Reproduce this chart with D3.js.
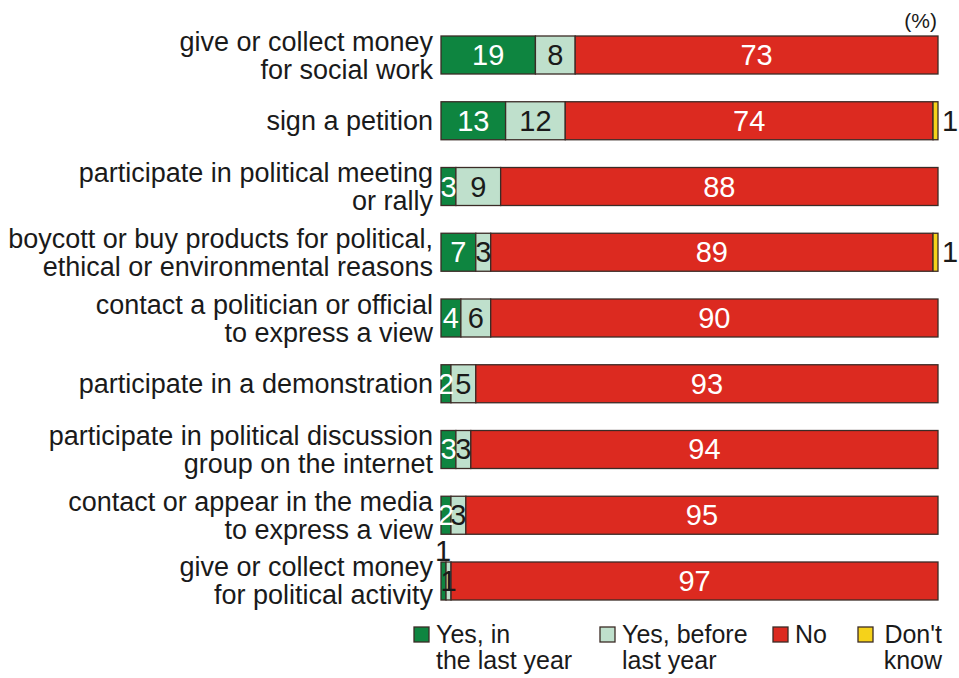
<!DOCTYPE html>
<html>
<head>
<meta charset="utf-8">
<script src="https://cdn.jsdelivr.net/npm/d3@7"></script>
<style>
  body { margin: 0; background: #fff; }
  svg text { font-family: "Liberation Sans", Arial, sans-serif; }
</style>
</head>
<body>
<div id="chart"></div>
<script>
var categories = [
  ["give or collect money", "for social work"],
  ["sign a petition"],
  ["participate in political meeting", "or rally"],
  ["boycott or buy products for political,", "ethical or environmental reasons"],
  ["contact a politician or official", "to express a view"],
  ["participate in a demonstration"],
  ["participate in political discussion", "group on the internet"],
  ["contact or appear in the media", "to express a view"],
  ["give or collect money", "for political activity"]
];
var seriesNames = ["Yes, in the last year", "Yes, before last year", "No", "Don't know"];
var yesLastYear   = [19, 13, 3, 7, 4, 2, 3, 2, 1];
var yesBefore     = [8, 12, 9, 3, 6, 5, 3, 3, 1];
var no            = [73, 74, 88, 89, 90, 93, 94, 95, 97];
var dontKnow      = [0, 1, 0, 1, 0, 0, 0, 0, 0];
var legendLines = [["Yes, in", "the last year"], ["Yes, before", "last year"], ["No"], ["Don't", "know"]];

var width = 959, height = 678;
var colors = ["#0e8540", "#bfe0cc", "#dc2a20", "#f5d21a"];
var textColors = ["#ffffff", "#1a1a1a", "#ffffff", "#1a1a1a"];

var svg = d3.select("#chart").append("svg")
  .attr("width", width).attr("height", height);

var rows = categories.map(function(c, i){
  return { key: i, label: c, values: [yesLastYear[i], yesBefore[i], no[i], dontKnow[i]] };
});

var y = d3.scaleBand()
  .domain(rows.map(function(d){ return d.key; }))
  .range([36, 600])
  .paddingInner(0.422)
  .paddingOuter(0);

var x = d3.scaleLinear().range([441, 938]);

var rowG = svg.selectAll(".row").data(rows).enter().append("g")
  .attr("class", "row");

rowG.each(function(d){
  var g = d3.select(this);
  var total = d3.sum(d.values);
  var xs = x.copy().domain([0, total]);   // bars fill the full width
  var cum = 0;
  var top = y(d.key), bh = y.bandwidth(), cy = top + bh / 2;
  var segs = d.values.map(function(v, j){
    var s = { j: j, v: v, x0: cum, x1: cum + v };
    cum += v;
    return s;
  }).filter(function(s){ return s.v > 0; });

  g.selectAll("rect").data(segs).enter().append("rect")
    .attr("x", function(s){ return xs(s.x0); })
    .attr("y", top)
    .attr("width", function(s){ return xs(s.x1) - xs(s.x0); })
    .attr("height", bh)
    .attr("fill", function(s){ return colors[s.j]; })
    .attr("stroke", "#3b2b26")
    .attr("stroke-width", 1.3);

  g.selectAll(".val").data(segs).enter().append("text")
    .attr("class", "val")
    .attr("font-size", 29)
    .attr("text-anchor", function(s){ return s.j === 3 ? "start" : "middle"; })
    .attr("x", function(s){
      if (s.j === 3) return xs(total) + 4;
      if (s.j === 0 && s.v < 1.5) return xs(s.x0) + 2;
      return (xs(s.x0) + xs(s.x1)) / 2;
    })
    .attr("y", function(s){
      if (s.j === 0 && s.v < 1.5) return top - 1;
      return cy + 10;
    })
    .attr("fill", function(s){
      if (s.j === 0 && s.v < 1.5) return "#1a1a1a";
      return textColors[s.j];
    })
    .text(function(s){ return s.v; });

  var lab = g.append("text")
    .attr("text-anchor", "end")
    .attr("font-size", 27)
    .attr("fill", "#1a1a1a");
  var n = d.label.length;
  d.label.forEach(function(line, k){
    lab.append("tspan")
      .attr("x", 433)
      .attr("y", cy + 9.5 + (k - (n - 1) / 2) * 28)
      .text(line);
  });
});

svg.append("text")
  .attr("x", 937).attr("y", 28)
  .attr("text-anchor", "end")
  .attr("font-size", 21)
  .attr("fill", "#1a1a1a")
  .text("(%)");

// legend
var legendPos = [414, 600, 773, 858];
var lg = svg.selectAll(".legend").data(seriesNames).enter().append("g")
  .attr("class", "legend")
  .attr("transform", function(d, i){ return "translate(" + legendPos[i] + ",0)"; });

lg.append("rect")
  .attr("x", 0).attr("y", 627)
  .attr("width", 15).attr("height", 15)
  .attr("fill", function(d, i){ return colors[i]; })
  .attr("stroke", "#3b2b26")
  .attr("stroke-width", 1.3);

lg.each(function(d, i){
  var t = d3.select(this).append("text")
    .attr("font-size", 25)
    .attr("fill", "#1a1a1a");
  legendLines[i].forEach(function(line, k){
    var tsp = t.append("tspan")
      .attr("y", 643 + k * 26)
      .text(line);
    if (i === 3) tsp.attr("x", 84).attr("text-anchor", "end");
    else tsp.attr("x", 22);
  });
});
</script>
</body>
</html>
